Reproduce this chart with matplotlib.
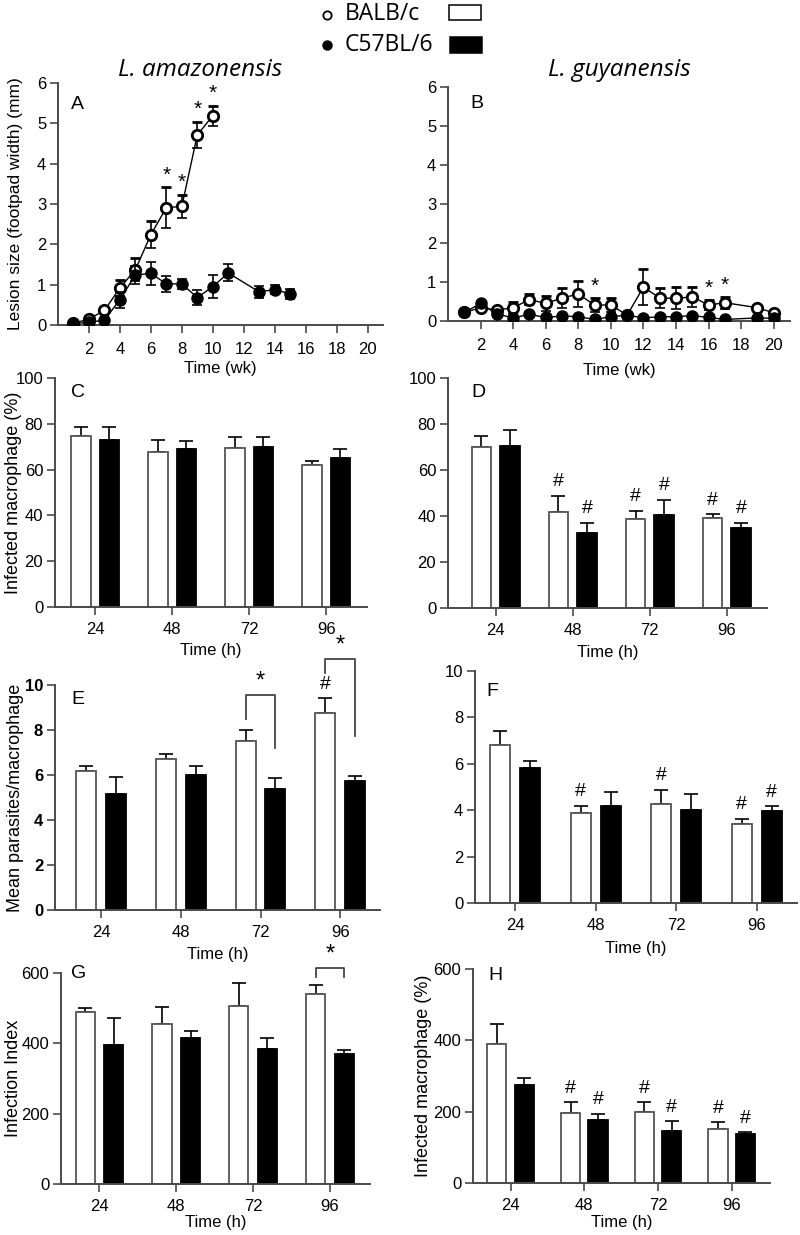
"""Lesion size and macrophage infection, BALB/c vs C57BL/6 (panels A-H)."""
import matplotlib
matplotlib.use("Agg")
import matplotlib.pyplot as plt
from matplotlib.patches import Rectangle

W, H = 800, 1235
AXIS_COLOR = "#4a4a4a"
TICK_FONT = "Liberation Sans"
TITLE_FONT = "Open Sans"

# ---- panel A: lesion size, L. amazonensis (mm) ----
a_balb_wk = [1, 2, 3, 4, 5, 6, 7, 8, 9, 10]
a_balb = [0.04, 0.15, 0.36, 0.92, 1.37, 2.24, 2.91, 2.94, 4.71, 5.19]
a_balb_err = [0.03, 0.04, 0.05, 0.20, 0.28, 0.33, 0.50, 0.29, 0.33, 0.25]
a_c57_wk = [1, 2, 3, 4, 5, 6, 7, 8, 9, 10, 11, 13, 14, 15]
a_c57 = [0.03, 0.07, 0.12, 0.63, 1.24, 1.28, 1.02, 1.02, 0.68, 0.95, 1.29, 0.82, 0.88, 0.77]
a_c57_err = [0.02, 0.03, 0.04, 0.20, 0.22, 0.28, 0.19, 0.13, 0.18, 0.29, 0.21, 0.14, 0.10, 0.13]
a_star_wk = [7, 8, 9, 10]

# ---- panel B: lesion size, L. guyanensis (mm) ----
b_wk = [1, 2, 3, 4, 5, 6, 7, 8, 9, 10, 11, 12, 13, 14, 15, 16, 17, 19, 20]
b_balb = [0.22, 0.34, 0.28, 0.34, 0.55, 0.45, 0.59, 0.69, 0.41, 0.41,
          0.15, 0.87, 0.59, 0.58, 0.62, 0.41, 0.47, 0.34, 0.21]
b_balb_err = [0.03, 0.05, 0.04, 0.15, 0.15, 0.20, 0.26, 0.33, 0.17, 0.19,
              0.04, 0.47, 0.25, 0.28, 0.25, 0.12, 0.15, 0.05, 0.04]
b_c57 = [0.22, 0.45, 0.18, 0.08, 0.17, 0.09, 0.13, 0.11, 0.04, 0.11,
         0.15, 0.08, 0.11, 0.11, 0.14, 0.09, 0.04, 0.08, 0.07]
b_c57_err = [0.03, 0.04, 0.03, 0.02, 0.03, 0.02, 0.02, 0.02, 0.02, 0.02,
             0.03, 0.02, 0.02, 0.02, 0.02, 0.02, 0.02, 0.02, 0.02]
b_star_wk = [9, 16, 17]

hours = ["24", "48", "72", "96"]

# ---- panels C/D: infected macrophages (%) ----
c_balb = [74.5, 67.8, 69.5, 62.0]
c_balb_err = [4.1, 5.0, 4.8, 1.9]
c_c57 = [72.8, 68.8, 70.0, 64.9]
c_c57_err = [5.8, 3.5, 4.4, 4.1]

d_balb = [70.0, 41.9, 38.8, 39.1]
d_balb_err = [4.8, 6.8, 3.4, 1.6]
d_c57 = [70.3, 32.6, 40.4, 34.8]
d_c57_err = [6.9, 4.5, 6.7, 2.3]
d_hash_balb = [1, 2, 3]
d_hash_c57 = [1, 2, 3]

# ---- panels E/F: mean parasites per macrophage ----
e_balb = [6.18, 6.70, 7.52, 8.77]
e_balb_err = [0.23, 0.22, 0.48, 0.64]
e_c57 = [5.16, 6.00, 5.40, 5.75]
e_c57_err = [0.74, 0.40, 0.45, 0.21]
e_hash_balb = [3]
e_hash_c57 = []
# significance brackets: group, bar height, left leg end, right leg end
e_bracket_group = [2, 3]
e_bracket_top = [9.55, 11.14]
e_bracket_left = [8.47, 10.52]
e_bracket_right = [7.21, 7.74]

f_balb = [6.81, 3.90, 4.28, 3.40]
f_balb_err = [0.61, 0.30, 0.60, 0.22]
f_c57 = [5.84, 4.19, 4.02, 3.96]
f_c57_err = [0.26, 0.61, 0.67, 0.20]
f_hash_balb = [1, 2, 3]
f_hash_c57 = [3]

# ---- panels G/H: infection index ----
g_balb = [489, 455, 506, 540]
g_balb_err = [12, 48, 66, 25]
g_c57 = [396, 414, 385, 371]
g_c57_err = [77, 20, 29, 9]
g_bracket_group = [3]
g_bracket_top = [615]
g_bracket_left = [588]
g_bracket_right = [588]

h_balb = [389, 196, 198, 151]
h_balb_err = [58, 31, 28, 19]
h_c57 = [275, 177, 147, 138]
h_c57_err = [19, 17, 26, 4]
h_hash_balb = [1, 2, 3]
h_hash_c57 = [1, 2, 3]


def px_axes(fig, left, top, right, bottom):
    ax = fig.add_axes([left / W, 1 - bottom / H, (right - left) / W, (bottom - top) / H])
    ax.patch.set_visible(False)
    ax.px = (left, top, right, bottom)
    return ax


def style_axes(ax, tick_bold=False, xpad=5):
    for side in ("top", "right"):
        ax.spines[side].set_visible(False)
    for side in ("left", "bottom"):
        ax.spines[side].set_color(AXIS_COLOR)
        ax.spines[side].set_linewidth(1.4)
    ax.tick_params(direction="out", length=5.5, width=1.2, color=AXIS_COLOR,
                   labelsize=12, pad=3)
    ax.tick_params(axis="x", pad=xpad)
    for lbl in ax.get_xticklabels() + ax.get_yticklabels():
        lbl.set_family(TICK_FONT)
    if tick_bold:
        for lbl in ax.get_yticklabels():
            lbl.set_fontweight("bold")


def set_labels(ax, xlabel, xlabel_y, ylabel=None, ylabel_x=None, ysize=13):
    left, top, right, bottom = ax.px
    ax.set_xlabel(xlabel, fontsize=12, family=TICK_FONT)
    ax.xaxis.set_label_coords(0.5, -(xlabel_y - bottom) / (bottom - top))
    ax.xaxis.label.set_va("center")
    if ylabel:
        ax.set_ylabel(ylabel, fontsize=ysize, family=TICK_FONT)
        ax.yaxis.set_label_coords((ylabel_x - left) / (right - left), 0.5)
        ax.yaxis.label.set_va("center")


def letter(ax, text, x_px, y_px):
    left, top, right, bottom = ax.px
    ax.text((x_px - left) / (right - left), (bottom - y_px) / (bottom - top), text,
            transform=ax.transAxes, fontsize=14, family=TICK_FONT,
            ha="center", va="center")


def line_panel(ax, balb_wk, balb, balb_err, c57_wk, c57, c57_err, star_wk):
    ax.errorbar(balb_wk, balb, yerr=[[0] * len(balb_err), balb_err], color="black",
                lw=1.0, elinewidth=1.2, capsize=3.5, capthick=1.2, marker="o",
                ms=7.5, mfc="white", mec="black", mew=2.0, zorder=3)
    ax.errorbar(balb_wk, balb, yerr=[balb_err, [0] * len(balb_err)], fmt="none",
                ecolor="black", elinewidth=1.2, capsize=3.5, capthick=1.2, zorder=2)
    ax.errorbar(c57_wk, c57, yerr=c57_err, color="black", lw=1.0, elinewidth=1.2,
                capsize=3.5, capthick=1.2, marker="o", ms=8, mfc="black",
                mec="black", zorder=4)
    for wk in star_wk:
        i = balb_wk.index(wk)
        ax.text(wk, balb[i] + balb_err[i] + 0.06, "*", ha="center", va="bottom",
                fontsize=15, family=TICK_FONT)
    ax.set_xlim(0, 21)
    ax.set_ylim(0, 6)
    ax.set_xticks(range(2, 21, 2))
    ax.set_yticks(range(0, 7))
    ax.tick_params(axis="x", length=7)


def bar_panel(ax, balb, balb_err, c57, c57_err, ymax, ystep, xlim,
              hash_balb=(), hash_c57=(), width=0.255, off=0.186):
    pos = list(range(len(hours)))
    xb = [p - off for p in pos]
    xc = [p + off for p in pos]
    ax.errorbar(xb, balb, yerr=[[0] * 4, balb_err], fmt="none", ecolor="black",
                elinewidth=1.2, capsize=5, capthick=1.2, zorder=1)
    ax.errorbar(xc, c57, yerr=[[0] * 4, c57_err], fmt="none", ecolor="black",
                elinewidth=1.2, capsize=5, capthick=1.2, zorder=1)
    ax.bar(xb, balb, width=width, color="white", edgecolor="#555555", lw=1.3, zorder=2)
    ax.bar(xc, c57, width=width, color="black", edgecolor="black", lw=1.3, zorder=2)
    for i in hash_balb:
        ax.text(xb[i], balb[i] + balb_err[i] + 0.025 * ymax, "#", ha="center",
                va="bottom", fontsize=14, family=TICK_FONT)
    for i in hash_c57:
        ax.text(xc[i], c57[i] + c57_err[i] + 0.025 * ymax, "#", ha="center",
                va="bottom", fontsize=14, family=TICK_FONT)
    ax.set_xlim(*xlim)
    ax.set_ylim(0, ymax)
    ax.set_xticks(pos)
    ax.set_xticklabels(hours)
    ax.set_yticks([ystep * k for k in range(int(round(ymax / ystep)) + 1)])
    return xb, xc


def brackets(ax, xb, xc, groups, tops, lefts, rights, ymax):
    for g, t, l, r in zip(groups, tops, lefts, rights):
        ax.plot([xb[g], xb[g], xc[g], xc[g]], [l, t, t, r], color="#444444",
                lw=1.3, clip_on=False)
        ax.text((xb[g] + xc[g]) / 2, t + 0.012 * ymax, "*", ha="center", va="bottom",
                fontsize=17, family=TICK_FONT, clip_on=False)


fig = plt.figure(figsize=(W / 100, H / 100), dpi=100)

# legend and species titles
leg = fig.add_axes([0, 0, 1, 1])
leg.set_xlim(0, W)
leg.set_ylim(H, 0)
leg.axis("off")
leg.plot([327], [15], "o", ms=6, mfc="white", mec="black", mew=1.3)
leg.plot([327], [45], "o", ms=6.5, mfc="black", mec="black")
leg.text(345, 14, "BALB/c", fontsize=16.5, family=TITLE_FONT, va="center")
leg.text(345, 45, "C57BL/6", fontsize=16.5, family=TITLE_FONT, va="center")
leg.add_patch(Rectangle((449, 5), 32, 15, facecolor="white", edgecolor="black", lw=1.1))
leg.add_patch(Rectangle((450, 37), 32, 16, facecolor="black", edgecolor="black", lw=1.1))
leg.text(200, 70, "L. amazonensis", fontsize=17.5, family=TITLE_FONT, style="italic",
         ha="center", va="center")
leg.text(619, 70, "L. guyanensis", fontsize=17.5, family=TITLE_FONT, style="italic",
         ha="center", va="center")

# A
ax = px_axes(fig, 58, 83, 383, 325)
line_panel(ax, a_balb_wk, a_balb, a_balb_err, a_c57_wk, a_c57, a_c57_err, a_star_wk)
style_axes(ax, xpad=7)
set_labels(ax, "Time (wk)", 369, "Lesion size (footpad width) (mm)", 16, ysize=12.5)
letter(ax, "A", 77, 105)

# B
ax = px_axes(fig, 448, 87, 790, 321)
line_panel(ax, b_wk, b_balb, b_balb_err, b_wk, b_c57, b_c57_err, b_star_wk)
style_axes(ax, xpad=7)
set_labels(ax, "Time (wk)", 370)
letter(ax, "B", 477, 104)

# C
ax = px_axes(fig, 55, 378, 367, 607)
bar_panel(ax, c_balb, c_balb_err, c_c57, c_c57_err, 100, 20, (-0.52, 3.53))
style_axes(ax)
set_labels(ax, "Time (h)", 651, "Infected macrophage (%)", 13)
letter(ax, "C", 78, 392)

# D
ax = px_axes(fig, 448, 378, 767, 608)
bar_panel(ax, d_balb, d_balb_err, d_c57, d_c57_err, 100, 20, (-0.62, 3.52),
          d_hash_balb, d_hash_c57)
style_axes(ax)
set_labels(ax, "Time (h)", 652)
letter(ax, "D", 478, 392)

# E
ax = px_axes(fig, 55, 685, 380, 910)
xb, xc = bar_panel(ax, e_balb, e_balb_err, e_c57, e_c57_err, 10, 2, (-0.58, 3.5),
                   e_hash_balb, e_hash_c57, width=0.25)
brackets(ax, xb, xc, e_bracket_group, e_bracket_top, e_bracket_left, e_bracket_right, 10)
style_axes(ax, tick_bold=True)
set_labels(ax, "Time (h)", 954, "Mean parasites/macrophage", 16)
letter(ax, "E", 78, 700)

# F
ax = px_axes(fig, 475, 671, 797, 903)
bar_panel(ax, f_balb, f_balb_err, f_c57, f_c57_err, 10, 2, (-0.5, 3.5),
          f_hash_balb, f_hash_c57, width=0.25)
style_axes(ax)
set_labels(ax, "Time (h)", 948)
letter(ax, "F", 492, 692)

# G
ax = px_axes(fig, 61, 973, 370, 1184)
xb, xc = bar_panel(ax, g_balb, g_balb_err, g_c57, g_c57_err, 600, 200, (-0.5, 3.52),
                   width=0.25)
brackets(ax, xb, xc, g_bracket_group, g_bracket_top, g_bracket_left, g_bracket_right, 600)
style_axes(ax)
set_labels(ax, "Time (h)", 1223, "Infection Index", 13)
letter(ax, "G", 79, 973)

# H
ax = px_axes(fig, 473, 969, 770, 1183)
bar_panel(ax, h_balb, h_balb_err, h_c57, h_c57_err, 600, 200, (-0.51, 3.52),
          h_hash_balb, h_hash_c57, width=0.26)
style_axes(ax)
set_labels(ax, "Time (h)", 1223, "Infected macrophage (%)", 423)
letter(ax, "H", 495, 975)

fig.savefig("out.png", dpi=100)
